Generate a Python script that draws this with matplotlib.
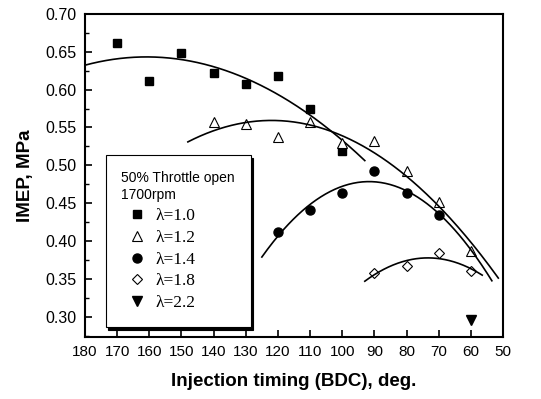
import numpy as np
import matplotlib.pyplot as plt
from matplotlib.ticker import MultipleLocator

# injection timing (deg BDC) and IMEP (MPa)
x_l10 = [170, 160, 150, 140, 130, 120, 110, 100]
y_l10 = [0.661, 0.612, 0.649, 0.622, 0.607, 0.618, 0.574, 0.519]

x_l12 = [140, 130, 120, 110, 100, 90, 80, 70, 60]
y_l12 = [0.557, 0.555, 0.538, 0.557, 0.530, 0.532, 0.492, 0.452, 0.387]

x_l14 = [120, 110, 100, 90, 80, 70]
y_l14 = [0.412, 0.441, 0.464, 0.493, 0.464, 0.434]

x_l18 = [90, 80, 70, 60]
y_l18 = [0.358, 0.367, 0.384, 0.361]

x_l22 = [60]
y_l22 = [0.296]

# x span of each fitted curve
span_l10 = (180, 93)
span_l12 = (148, 51.5)
span_l14 = (125, 53.5)
span_l18 = (93, 56.5)

plt.rcParams['font.family'] = ['Liberation Sans', 'DejaVu Sans']

fig = plt.figure(figsize=(5.41, 3.99), dpi=100)
ax = fig.add_axes([0.157, 0.155, 0.773, 0.81])

series = [
    (x_l10, y_l10, span_l10, dict(marker='s', color='black', markersize=6), 'λ=1.0'),
    (x_l12, y_l12, span_l12, dict(marker='^', markerfacecolor='white', markeredgecolor='black', markersize=7, markeredgewidth=0.8), 'λ=1.2'),
    (x_l14, y_l14, span_l14, dict(marker='o', color='black', markersize=6.5), 'λ=1.4'),
    (x_l18, y_l18, span_l18, dict(marker='D', markerfacecolor='white', markeredgecolor='black', markersize=5.5, markeredgewidth=0.8), 'λ=1.8'),
]

for xs, ys, span, style, lab in series:
    ax.plot(xs, ys, linestyle='none', label=lab, **style)
    c = np.polyfit(xs, ys, 2)
    xf = np.linspace(span[0], span[1], 200)
    ax.plot(xf, np.polyval(c, xf), color='black', linewidth=1.2)

ax.plot(x_l22, y_l22, linestyle='none', marker='v', color='black', markersize=7, label='λ=2.2')

ax.set_xlim(180, 50)
ax.set_ylim(0.273, 0.70)
ax.xaxis.set_major_locator(MultipleLocator(10))
ax.yaxis.set_major_locator(MultipleLocator(0.05))
ax.yaxis.set_minor_locator(MultipleLocator(0.025))
ax.yaxis.set_major_formatter(plt.FormatStrFormatter('%.2f'))
ax.tick_params(direction='in', width=1.2, length=5, top=False, right=False, pad=6)
ax.tick_params(axis='y', labelsize=11.5)
ax.tick_params(axis='x', labelsize=11)
ax.tick_params(which='minor', direction='in', width=1, length=3)
for s in ax.spines.values():
    s.set_linewidth(1.5)

ax.set_xlabel('Injection timing (BDC), deg.', fontsize=13.5, fontweight='bold', labelpad=10)
ax.set_ylabel('IMEP, MPa', fontsize=13.5, fontweight='bold', labelpad=8)

leg = ax.legend(loc='upper left', bbox_to_anchor=(0.0495, 0.5635), borderaxespad=0,
                title='50% Throttle open\n1700rpm', alignment='left',
                prop={'family': 'Liberation Serif', 'size': 12.5},
                title_fontproperties={'family': 'Liberation Sans', 'size': 10},
                fancybox=False, edgecolor='black', framealpha=1,
                shadow={'color': 'black', 'alpha': 1},
                handlelength=1.8, handletextpad=0.15, labelspacing=0.33,
                borderpad=0.9)
leg.get_frame().set_linewidth(0.8)
leg.get_title().set_linespacing(1.3)

fig.savefig('out.png', dpi=100)
